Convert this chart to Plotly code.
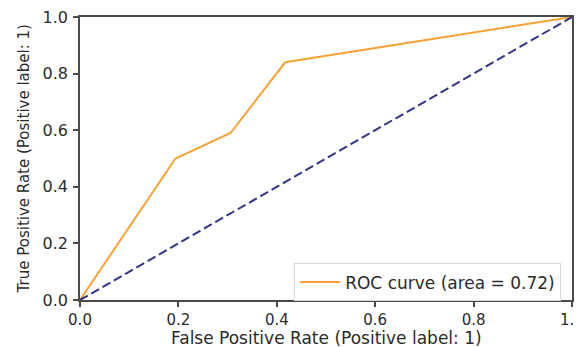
import plotly.graph_objects as go

fpr = [0.0, 0.194, 0.306, 0.417, 1.0]
tpr = [0.0, 0.50, 0.59, 0.84, 1.0]
diag_x = [0.0, 1.0]
diag_y = [0.0, 1.0]
roc_auc = 0.72
tick_vals = [0.0, 0.2, 0.4, 0.6, 0.8, 1.0]
tick_text = ["0.0", "0.2", "0.4", "0.6", "0.8", "1.0"]
x_title = "False Positive Rate (Positive label: 1)"
y_title = "True Positive Rate (Positive label: 1)"

fig = go.Figure()
fig.add_trace(go.Scatter(
    x=fpr, y=tpr, mode="lines",
    line=dict(color="#f8a235", width=2),
    name=f"ROC curve (area = {roc_auc:.2f})",
))
fig.add_trace(go.Scatter(
    x=diag_x, y=diag_y, mode="lines",
    line=dict(color="#33338a", width=2, dash="9px,4px"),
    showlegend=False,
))

txt = "#2b2b2b"
ytick_font = dict(family="DejaVu Sans", size=16, color=txt)
xtick_font = dict(family="DejaVu Sans", size=15, color=txt)
xt_font = dict(family="DejaVu Sans", size=17, color=txt)
yt_font = dict(family="DejaVu Sans", size=15, color=txt)

# the page body adds an 8px offset; size and margins compensate for it
fig.update_layout(
    width=574, height=339,
    margin=dict(l=72, r=10, t=9, b=47),
    paper_bgcolor="white", plot_bgcolor="white",
    font=ytick_font,
    legend=dict(
        x=0.978, y=-0.005, xanchor="right", yanchor="bottom",
        bgcolor="white", bordercolor="#d6d6d6", borderwidth=1,
        font=xt_font, itemwidth=40,
    ),
    annotations=[
        dict(text=x_title, xref="paper", yref="paper", x=0.5, y=-0.135,
             xanchor="center", yanchor="middle", showarrow=False, font=xt_font),
        dict(text=y_title, xref="paper", yref="paper", x=-0.114, y=0.5,
             xanchor="center", yanchor="middle", textangle=-90, showarrow=False, font=yt_font),
    ],
)
axis_common = dict(
    range=[0, 1], tickvals=tick_vals, ticktext=tick_text,
    showgrid=False, zeroline=False, automargin=False,
    showline=True, mirror=True, linecolor="#4a4a4a", linewidth=1.5,
    ticks="outside", ticklen=5, tickcolor="#4a4a4a", tickwidth=1.5,
    ticklabeloverflow="allow",
)
fig.update_xaxes(ticklabelstandoff=0, tickfont=xtick_font, **axis_common)
fig.update_yaxes(ticklabelstandoff=2, tickfont=ytick_font, **axis_common)

fig.write_html("out.html")
